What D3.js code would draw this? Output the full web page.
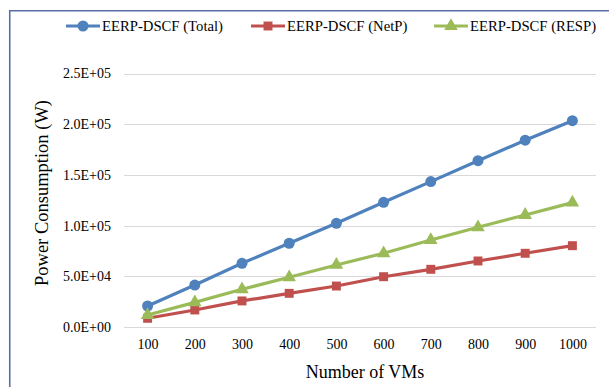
<!DOCTYPE html>
<html lang="en">
<head>
<meta charset="UTF-8">
<title>Power Consumption</title>
<script src="https://d3js.org/d3.v7.min.js"></script>
<style>
  body { margin: 0; background: #fff; }
  svg text { font-family: "Liberation Serif", "Times New Roman", serif; fill: #000; }
  .grid line { stroke: #d9d9d9; stroke-width: 1; }
</style>
</head>
<body>
<svg width="609" height="387"></svg>
<script>
// chart data
const vms = [100, 200, 300, 400, 500, 600, 700, 800, 900, 1000];
const total = [20700, 41400, 62800, 82600, 102300, 123000, 143400, 164000, 184200, 203500];
const netp = [8600, 16800, 25700, 33200, 40400, 49600, 56900, 65100, 72700, 80200];
const resp = [11800, 24300, 37200, 49000, 61200, 72700, 85800, 98300, 110500, 122700];
const yTicks = [0, 50000, 100000, 150000, 200000, 250000];

const series = [
  { name: "EERP-DSCF (Total)", values: total, color: "#4f81bd", shape: "circle" },
  { name: "EERP-DSCF (NetP)", values: netp, color: "#c0504d", shape: "square" },
  { name: "EERP-DSCF (RESP)", values: resp, color: "#9bbb59", shape: "triangle" }
];

const svg = d3.select("svg");

// outer frame (only top and left edges show)
svg.append("path")
  .attr("d", "M9.75,400 V10.75 H620")
  .attr("fill", "none")
  .attr("stroke", "#5b6fa5")
  .attr("stroke-width", 1.6);

const x = d3.scalePoint().domain(vms).range([124, 596]).padding(0.5);
const y = d3.scaleLinear().domain([0, 250000]).range([327, 73.5]);

// horizontal gridlines
svg.append("g").attr("class", "grid")
  .selectAll("line").data(yTicks).join("line")
  .attr("x1", 124).attr("x2", 596)
  .attr("y1", d => Math.round(y(d)) + 0.5)
  .attr("y2", d => Math.round(y(d)) + 0.5);

// y axis labels
const yAxis = d3.axisLeft(y).tickValues(yTicks).tickSize(0).tickPadding(13)
  .tickFormat(d => {
    const [m, e] = d3.format(".1e")(d).split("e");
    const ex = +e;
    return m + "E" + (ex < 0 ? "-" : "+") + String(Math.abs(ex)).padStart(2, "0");
  });
svg.append("g").attr("transform", "translate(124,0)").call(yAxis)
  .call(g => g.select(".domain").remove());

// x axis labels
const xAxis = d3.axisBottom(x).tickSize(0).tickPadding(12);
svg.append("g").attr("transform", "translate(0,327)").call(xAxis)
  .call(g => g.select(".domain").remove());

svg.selectAll(".tick text")
  .style("font-family", "'Liberation Serif', 'Times New Roman', serif")
  .style("font-size", "14px")
  .style("fill", "#000");

// axis titles
svg.append("text")
  .attr("x", 365).attr("y", 378)
  .attr("text-anchor", "middle")
  .style("font-size", "18px")
  .text("Number of VMs");

svg.append("text")
  .attr("transform", "translate(48,193) rotate(-90)")
  .attr("text-anchor", "middle")
  .style("font-size", "18.5px")
  .text("Power Consumption (W)");

const line = d3.line().x((d, i) => x(vms[i])).y(d => y(d));

const symbols = { circle: d3.symbolCircle, square: d3.symbolSquare, triangle: d3.symbolTriangle };
const sizes = { circle: 95, square: 80, triangle: 80 };

series.forEach(s => {
  svg.append("path")
    .attr("d", line(s.values))
    .attr("fill", "none")
    .attr("stroke", s.color)
    .attr("stroke-width", 3.2)
    .attr("stroke-linejoin", "round");
  svg.append("g").selectAll("path").data(s.values).join("path")
    .attr("transform", (d, i) => `translate(${x(vms[i])},${y(d)})`)
    .attr("d", d3.symbol().type(symbols[s.shape]).size(sizes[s.shape]))
    .attr("fill", s.color);
});

// legend
const legendX = [66, 251, 434];
const legend = svg.append("g");
series.forEach((s, i) => {
  const g = legend.append("g").attr("transform", `translate(${legendX[i]},26)`);
  g.append("line").attr("x1", 0).attr("x2", 34).attr("y1", 0).attr("y2", 0)
    .attr("stroke", s.color).attr("stroke-width", 3.2);
  g.append("path").attr("transform", "translate(17,0)")
    .attr("d", d3.symbol().type(symbols[s.shape]).size(sizes[s.shape]))
    .attr("fill", s.color);
  g.append("text").attr("x", 36).attr("y", 5)
    .style("font-size", "14.7px")
    .text(s.name);
});
</script>
</body>
</html>
